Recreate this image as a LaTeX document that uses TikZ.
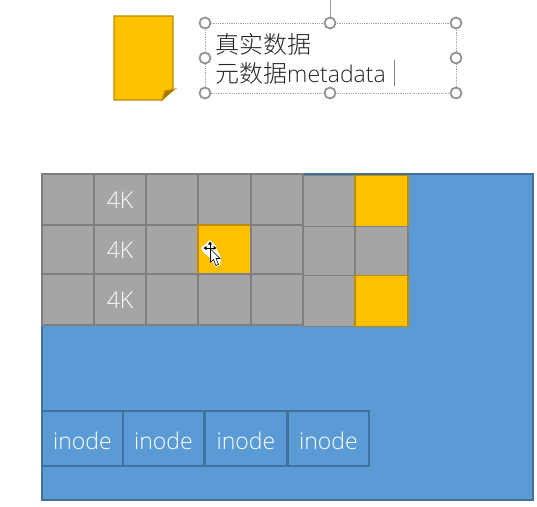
\documentclass[tikz,border=0pt]{standalone}
\usepackage{fontspec}
\setmainfont{Open Sans Light}
\newfontfamily\cjk{Noto Sans CJK SC Light}
\definecolor{cellgray}{HTML}{A5A5A5}
\definecolor{cellline}{HTML}{7F7F7F}
\definecolor{blockgold}{HTML}{FFC000}
\definecolor{goldline}{HTML}{BC8C00}
\definecolor{diskblue}{HTML}{5B9BD5}
\definecolor{diskline}{HTML}{41719C}
\tikzset{
  cellbox/.style={draw=cellline, line width=1.3pt, inner sep=0pt, text=white, text height=18pt, text depth=0pt, font=\fontsize{23}{25}\selectfont},
  inodebox/.style={draw=diskline, line width=1.3pt, fill=diskblue, inner sep=0pt, text=white, text height=21pt, text depth=0pt, minimum height=55pt, font=\fontsize{23}{25}\selectfont},
  handle/.style={circle, draw=gray!85, fill=white, line width=1.8pt, minimum size=11pt, inner sep=0pt},
  notetext/.style={anchor=west, inner sep=0pt, text=black!85, font=\fontsize{23}{25}\selectfont},
}
\begin{document}
\begin{tikzpicture}[x=1pt,y=-1pt]
  \useasboundingbox (0,0) rectangle (537,506);
  % legend
  \draw[draw=goldline, line width=1.3pt, fill=blockgold] (114,16) -- (173,16) -- (173,88) -- (162,100) -- (114,100) -- cycle;
  \draw[draw=goldline, line width=1pt, fill=goldline!85!black] (175,89) -- (165,91) -- (162,100) -- cycle;
  \coordinate (boxa) at (205,23);
  \coordinate (boxb) at (456,93);
  \draw[gray!70, densely dotted, line width=0.8pt] (boxa) rectangle (boxb);
  \coordinate (rottop) at (330,0);
  \node[handle] (htop) at (330,23) {};
  \draw[gray!80, line width=0.8pt] (rottop) -- (htop);
  \foreach \name/\hx/\hy in {hnw/205/23,hne/456/23,hw/205/58,he/456/58,hsw/205/93,hs/330/93,hse/456/93}
    \node[handle] (\name) at (\hx,\hy) {};
  \node[notetext] (realdata) at (215,44) {\cjk\fontsize{24}{26}\selectfont 真实数据};
  \node[notetext] (metadata) at (215,73) {{\cjk\fontsize{24}{26}\selectfont 元数据}metadata};
  \coordinate (carettop) at (394,60);
  \coordinate (caretbot) at (394,86);
  \draw[gray, line width=0.7pt] (carettop) -- (caretbot);
  % disk
  \node[draw=diskline, line width=1.3pt, fill=diskblue, inner sep=0pt, minimum width=491pt, minimum height=326pt] (disk) at (287.5,337) {};
  % blocks
  \foreach \xa/\xb/\dy [count=\c] in {42/94/0,94/146/0,146/198/0,198/251/0,251/303/0,303/355/1.5,355/408/1.5} {
    \foreach \ya/\yb [count=\r] in {174/225,225/274,274/325} {
      \def\cellfill{cellgray}
      \def\celledge{cellline}
      \def\celltext{}
      \ifnum\c=2 \def\celltext{4K}\fi
      \ifnum\c=4 \ifnum\r=2 \def\cellfill{blockgold}\def\celledge{goldline}\fi\fi
      \ifnum\c=7 \ifnum\r=2 \else \def\cellfill{blockgold}\def\celledge{goldline}\fi\fi
      \node[cellbox, fill=\cellfill, draw=\celledge, minimum width={(\xb-\xa)*1pt}, minimum height={(\yb-\ya)*1pt}]
        (cell\c\r) at ({(\xa+\xb)/2},{(\ya+\yb)/2+\dy}) {\celltext};
    }
  }
  % inodes
  \foreach \xa/\xb [count=\n] in {42/123,123/204,205/287,288/369}
    \node[inodebox, minimum width={(\xb-\xa)*1pt}] (inode\n) at ({(\xa+\xb)/2},438.5) {inode};
  % mouse pointer
  \fill[white] (210,240) -- (216,246) -- (217,250) -- (221,258) -- (220,265) -- (216,267) -- (210,258) -- (203,252) -- (201,248) -- cycle;
  \draw[black, line width=1pt] (210,243) -- (210,253) (205,248) -- (215,248);
  \fill[black] (210,241.5) -- (212,244.5) -- (208,244.5) -- cycle
    (203.5,248) -- (206.5,246) -- (206.5,250) -- cycle
    (216.5,248) -- (213.5,246) -- (213.5,250) -- cycle;
  \draw[black, fill=white, line width=0.6pt] (210.5,249) -- (210.5,262) -- (213.5,259.5) -- (216,265.5) -- (218.5,264.5) -- (216,258.5) -- (220,258.5) -- cycle;
\end{tikzpicture}
\end{document}
